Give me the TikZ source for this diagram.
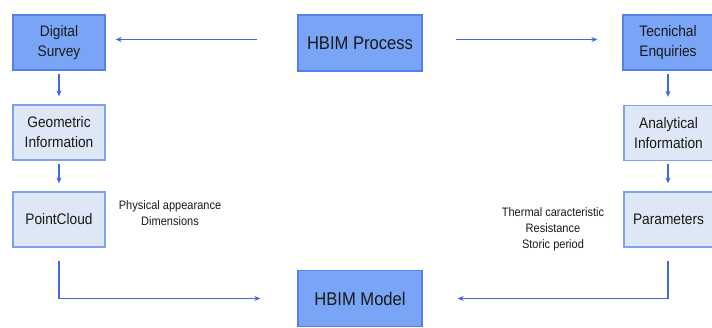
\documentclass[tikz,border=0pt]{standalone}
\usepackage{fontspec}
\setmainfont{Liberation Sans}[FakeStretch=0.9]
\usetikzlibrary{arrows.meta}
\definecolor{darkfill}{RGB}{122,165,246}
\definecolor{darkline}{RGB}{84,128,232}
\definecolor{lightfill}{RGB}{221,231,245}
\definecolor{lightline}{RGB}{128,162,234}
\definecolor{arrowblue}{RGB}{64,104,224}
\definecolor{inktext}{RGB}{25,25,25}
\tikzset{
  box/.style={draw, line width=1.3bp, minimum width=92bp, minimum height=55bp,
    inner sep=0pt, align=center, text=inktext, font=\fontsize{15.3}{20}\selectfont},
  dark/.style={box, fill=darkfill, draw=darkline},
  light/.style={box, fill=lightfill, draw=lightline},
  big/.style={dark, minimum width=124bp, minimum height=56bp, font=\fontsize{18.5}{22}\selectfont},
  note/.style={align=center, text=inktext, font=\fontsize{12.3}{16}\selectfont},
  arr/.style={draw=arrowblue, line width=1.1bp, -{Stealth[length=6bp,width=5bp]}}
}
\begin{document}
\begin{tikzpicture}[x=1bp,y=-1bp]
\useasboundingbox (0,0) rectangle (712,327);
% left column
\node[dark]  (ds) at (59,42.5)  {Digital\\Survey};
\node[light] (gi) at (59,132.5) {Geometric\\Information};
\node[light] (pc) at (59,219.5) {PointCloud};
% centre
\node[big] (hp) at (360,43)  {HBIM Process};
\node[big] (hm) at (360,298.5) {HBIM Model};
% right column
\node[dark,minimum width=90bp]  (te) at (668,42.5)  {Tecnichal\\Enquiries};
\node[light,minimum width=89bp] (ai) at (668.5,133) {Analytical\\Information};
\node[light,minimum width=89bp] (pa) at (668.5,219.5) {Parameters};
% side notes
\node[note] (n1) at (170,213) {Physical appearance\\Dimensions};
\node[note] (n2) at (553,229) {Thermal caracteristic\\Resistance\\Storic period};
% connectors
\draw[arr, shorten <=40bp, shorten >=10bp] ([yshift=3.5bp]hp.west) -- ([yshift=3.5bp]hp.west -| ds.east);
\draw[arr, shorten <=33bp, shorten >=25bp] ([yshift=3.5bp]hp.east) -- ([yshift=3.5bp]hp.east -| te.west);
\draw[arr, shorten <=3bp, shorten >=8bp] (ds.south) -- (gi.north);
\draw[arr, shorten <=3bp, shorten >=8bp] (gi.south) -- (pc.north);
\draw[arr, shorten <=3bp, shorten >=8bp] (te.south) -- (te.south |- ai.north);
\draw[arr, shorten <=3bp, shorten >=8bp] (te.south |- ai.south) -- (te.south |- pa.north);
\draw[arr, shorten <=13bp, shorten >=37bp] (pc.south) |- (hm.west);
\draw[arr, shorten <=13bp, shorten >=35bp] (te.south |- pa.south) |- (hm.east);
\end{tikzpicture}
\end{document}
